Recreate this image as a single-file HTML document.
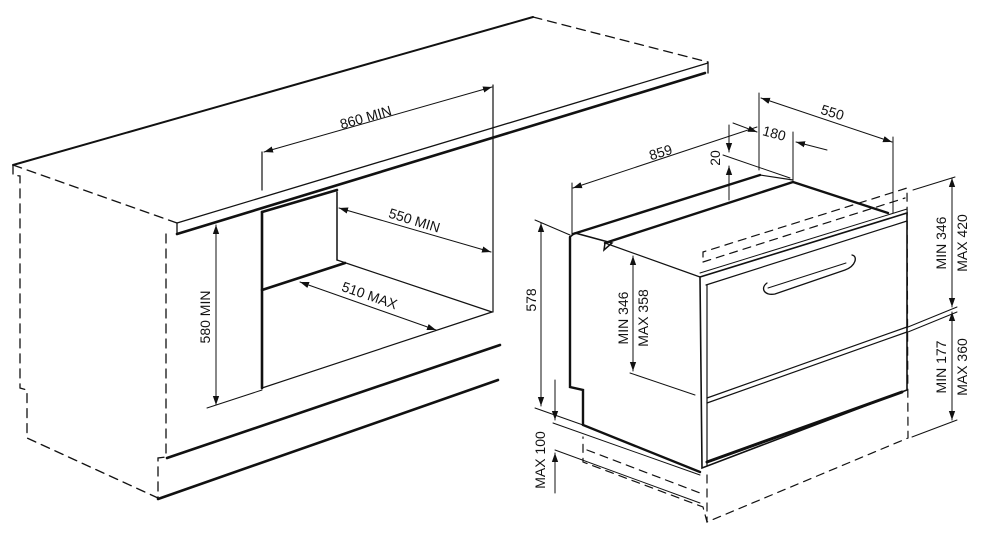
<!DOCTYPE html>
<html><head><meta charset="utf-8"><style>
html,body{margin:0;padding:0;background:#fff;}
svg{display:block;}
text{font-family:"Liberation Sans",Arial,sans-serif;font-size:14px;fill:#111;}
</style></head><body>
<svg width="993" height="539" viewBox="0 0 993 539" xmlns="http://www.w3.org/2000/svg">
<defs>
<marker id="a" viewBox="0 0 10 10" refX="10" refY="5" markerWidth="9" markerHeight="9" orient="auto-start-reverse" markerUnits="userSpaceOnUse"><path d="M0,1.5 L10,5 L0,8.5 z" fill="#111"/></marker>
</defs>
<g stroke="#111" fill="none" stroke-linecap="round">
<!-- LEFT CABINET -->
<line x1="13" y1="165" x2="533" y2="17" stroke-width="2"/>
<line x1="533" y1="17" x2="708" y2="62" stroke-width="1.3" stroke-dasharray="9,6"/>
<line x1="13" y1="165" x2="177" y2="223" stroke-width="1.3" stroke-dasharray="9,6"/>
<line x1="177" y1="223" x2="708" y2="63" stroke-width="1.3"/>
<line x1="177" y1="234" x2="705" y2="73" stroke-width="2.6"/>
<line x1="177" y1="223" x2="177" y2="234" stroke-width="1.3"/>
<line x1="708" y1="62" x2="708" y2="73" stroke-width="1.3"/>
<polyline points="13,165 13,175 20,176 20,388 27,390 27,438 158,498" stroke-width="1.3" stroke-dasharray="9,6"/>
<polyline points="166,234 166,457 158,458 158,498" stroke-width="1.3" stroke-dasharray="9,6"/>
<line x1="167" y1="458" x2="500" y2="345" stroke-width="2.6"/>
<line x1="158" y1="499" x2="498" y2="380" stroke-width="2.6"/>
<!-- opening -->
<line x1="262" y1="212" x2="262" y2="388" stroke-width="2.6"/>
<line x1="262" y1="212" x2="337" y2="190" stroke-width="2.6"/>
<line x1="337" y1="192" x2="337" y2="260" stroke-width="1.5"/>
<line x1="262" y1="290" x2="345" y2="263" stroke-width="2.6"/>
<line x1="337" y1="260" x2="492" y2="312" stroke-width="1.2"/>
<line x1="262" y1="388" x2="492" y2="312" stroke-width="1.2"/>
<line x1="493" y1="85" x2="493" y2="312" stroke-width="1.2"/>
<line x1="262" y1="152" x2="262" y2="190" stroke-width="1.2"/>
<line x1="264" y1="152" x2="492" y2="87" stroke-width="1" marker-start="url(#a)" marker-end="url(#a)"/>
<line x1="339" y1="208" x2="491" y2="252" stroke-width="1" marker-start="url(#a)" marker-end="url(#a)"/>
<line x1="300" y1="282" x2="436" y2="330" stroke-width="1" marker-start="url(#a)" marker-end="url(#a)"/>
<line x1="216" y1="225" x2="216" y2="405" stroke-width="1" marker-start="url(#a)" marker-end="url(#a)"/>
<line x1="207" y1="408" x2="262" y2="390" stroke-width="1"/>

<!-- RIGHT APPLIANCE -->
<polyline points="570,237 570,387 583,390 583,425 700,472" stroke-width="2.4"/>
<path d="M570,237 L575,233 L612,243 L604,250 L605,243" stroke-width="1.5"/>
<line x1="573" y1="234" x2="760" y2="175" stroke-width="2.4"/>
<line x1="760" y1="175" x2="793" y2="180" stroke-width="1.2"/>
<line x1="605" y1="243" x2="793" y2="182" stroke-width="2.4"/>
<line x1="793" y1="182" x2="888" y2="213" stroke-width="2.4"/>
<line x1="605" y1="243" x2="700" y2="277" stroke-width="1.2"/>
<polygon points="700,277 907,213 907,390 702,468" stroke-width="1.6"/>
<line x1="706" y1="285" x2="907" y2="221" stroke-width="1.2"/>
<line x1="700" y1="273" x2="907" y2="209" stroke-width="1"/>
<line x1="707" y1="285" x2="707" y2="466" stroke-width="1.2"/>
<line x1="707" y1="398" x2="907" y2="327" stroke-width="1.2"/>
<line x1="707" y1="403" x2="907" y2="332" stroke-width="1.2"/>
<line x1="707" y1="462" x2="902" y2="392" stroke-width="3"/>
<path d="M767,283 C760,288 764,296 775,294 L845,270 C856,266 858,256 852,255" stroke-width="1.3"/>
<path d="M768,288 L846,263" stroke-width="1"/>
<!-- dashed housing -->
<polyline points="703,257 703,252 907,188 908,438 707,522 703,507 583,462 583,437" stroke-width="1.2" stroke-dasharray="8,6"/>
<line x1="703" y1="262" x2="905" y2="198" stroke-width="1.2" stroke-dasharray="8,6"/>
<line x1="707" y1="475" x2="707" y2="522" stroke-width="1.2" stroke-dasharray="8,6"/>
<line x1="587" y1="450" x2="700" y2="493" stroke-width="1.2" stroke-dasharray="8,6"/>
<!-- dims -->
<line x1="535" y1="220" x2="570" y2="235" stroke-width="1"/>
<line x1="535" y1="408" x2="583" y2="425" stroke-width="1"/>
<line x1="541" y1="223" x2="541" y2="406" stroke-width="1" marker-start="url(#a)" marker-end="url(#a)"/>
<line x1="553" y1="423" x2="700" y2="475" stroke-width="1"/>
<line x1="555" y1="450" x2="700" y2="503" stroke-width="1"/>
<line x1="555" y1="380" x2="555" y2="420" stroke-width="1" marker-end="url(#a)"/>
<line x1="555" y1="493" x2="555" y2="453" stroke-width="1" marker-end="url(#a)"/>
<line x1="633" y1="256" x2="633" y2="371" stroke-width="1" marker-start="url(#a)" marker-end="url(#a)"/>
<line x1="630" y1="373" x2="695" y2="395" stroke-width="1"/>
<line x1="572" y1="183" x2="572" y2="235" stroke-width="1"/>
<line x1="573" y1="188" x2="757" y2="127" stroke-width="1" marker-start="url(#a)"/>
<line x1="733" y1="123" x2="757" y2="132" stroke-width="1" marker-end="url(#a)"/>
<line x1="827" y1="150" x2="796" y2="142" stroke-width="1" marker-end="url(#a)"/>
<line x1="759" y1="93" x2="759" y2="170" stroke-width="1"/>
<line x1="793" y1="132" x2="793" y2="180" stroke-width="1"/>
<line x1="761" y1="98" x2="892" y2="142" stroke-width="1" marker-start="url(#a)" marker-end="url(#a)"/>
<line x1="893" y1="137" x2="893" y2="213" stroke-width="1"/>
<line x1="729" y1="125" x2="729" y2="152" stroke-width="1" marker-end="url(#a)"/>
<line x1="729" y1="200" x2="729" y2="166" stroke-width="1" marker-end="url(#a)"/>
<line x1="723" y1="155" x2="790" y2="178" stroke-width="1"/>
<line x1="913" y1="190" x2="955" y2="177" stroke-width="1"/>
<line x1="908" y1="327" x2="957" y2="307" stroke-width="1"/>
<line x1="908" y1="332" x2="957" y2="312" stroke-width="1"/>
<line x1="912" y1="437" x2="957" y2="420" stroke-width="1"/>
<line x1="952" y1="178" x2="952" y2="307" stroke-width="1" marker-start="url(#a)" marker-end="url(#a)"/>
<line x1="952" y1="312" x2="952" y2="420" stroke-width="1" marker-start="url(#a)" marker-end="url(#a)"/>
</g>
<g>
<text x="0" y="0" text-anchor="middle" transform="translate(367,122) rotate(-16)">860 MIN</text>
<text x="0" y="0" text-anchor="middle" transform="translate(413,225) rotate(17)">550 MIN</text>
<text x="0" y="0" text-anchor="middle" transform="translate(368,300) rotate(19)">510 MAX</text>
<text x="0" y="0" text-anchor="middle" transform="translate(210,317) rotate(-90)">580 MIN</text>
<text x="0" y="0" text-anchor="middle" transform="translate(536,300) rotate(-90)">578</text>
<text x="0" y="0" text-anchor="middle" transform="translate(545,460) rotate(-90)">MAX 100</text>
<text x="0" y="0" text-anchor="middle" transform="translate(628,318) rotate(-90)">MIN 346</text>
<text x="0" y="0" text-anchor="middle" transform="translate(648,318) rotate(-90)">MAX 358</text>
<text x="0" y="0" text-anchor="middle" transform="translate(662,157) rotate(-17)">859</text>
<text x="0" y="0" text-anchor="middle" transform="translate(773,138) rotate(15)">180</text>
<text x="0" y="0" text-anchor="middle" transform="translate(831,117) rotate(17)">550</text>
<text x="0" y="0" text-anchor="middle" transform="translate(720,158) rotate(-90)">20</text>
<text x="0" y="0" text-anchor="middle" transform="translate(946,243) rotate(-90)">MIN 346</text>
<text x="0" y="0" text-anchor="middle" transform="translate(967,243) rotate(-90)">MAX 420</text>
<text x="0" y="0" text-anchor="middle" transform="translate(946,367) rotate(-90)">MIN 177</text>
<text x="0" y="0" text-anchor="middle" transform="translate(967,367) rotate(-90)">MAX 360</text>
</g>
</svg>
</body></html>
